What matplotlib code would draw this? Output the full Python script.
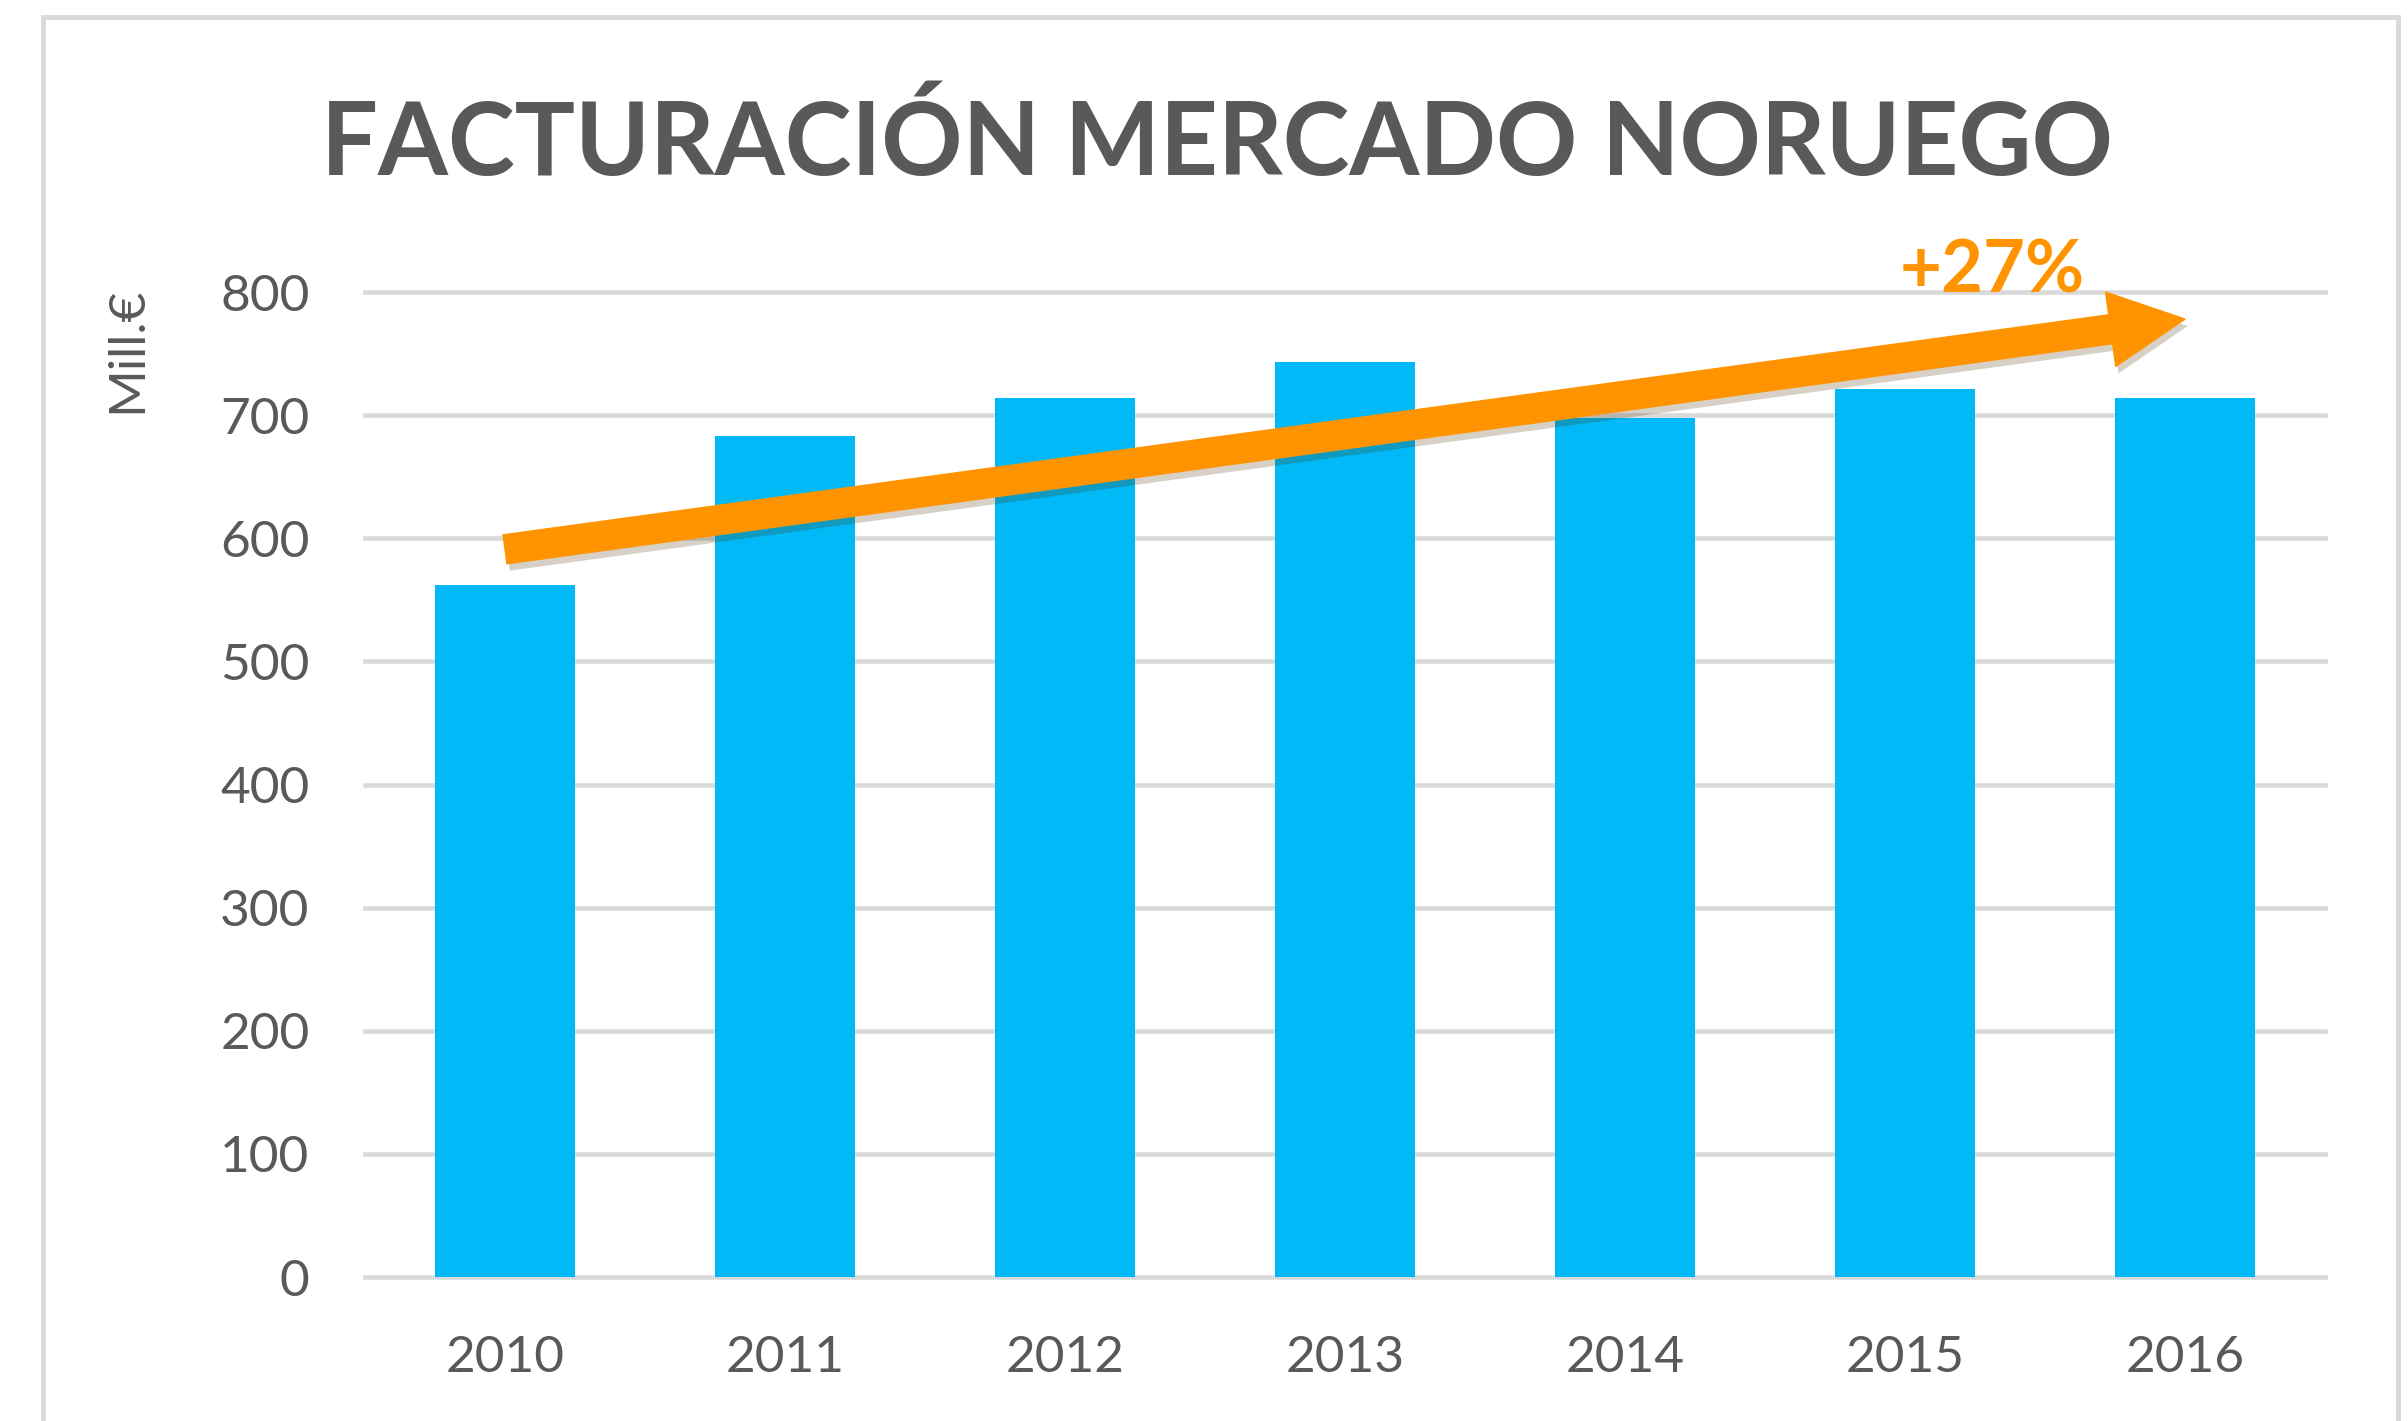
import matplotlib
matplotlib.use("Agg")
import matplotlib.pyplot as plt
import matplotlib.patheffects as pe
from matplotlib.patches import Rectangle

# Data
years = ["2010", "2011", "2012", "2013", "2014", "2015", "2016"]
revenue = [562, 683, 714, 743, 698, 721, 714]
y_ticks = [0, 100, 200, 300, 400, 500, 600, 700, 800]
trend_start = 591
trend_end = 778
trend_label = "+27%"

title = "FACTURACIÓN MERCADO NORUEGO"
ylabel = "Mill.€"

BAR_COLOR = "#00B9F6"
ORANGE = "#FF9400"
TEXT_GRAY = "#595959"
GRID_GRAY = "#D9D9D9"

plt.rcParams["font.family"] = ["Lato", "DejaVu Sans"]

fig = plt.figure(figsize=(24.07, 14.21), dpi=100)
ax = fig.add_axes([365 / 2407, 1 - 1277 / 1421, (2325 - 365) / 2407, (1277 - 292) / 1421])

x = list(range(len(years)))
ax.bar(x, revenue, width=0.5, color=BAR_COLOR, zorder=2)

ax.set_xlim(-0.5, len(years) - 0.5)
ax.set_ylim(0, 800)
ax.set_yticks(y_ticks)
ax.set_xticks(x)
ax.set_xticklabels(years)

ax.grid(axis="y", color=GRID_GRAY, linewidth=3.3, zorder=0)
for gl in ax.get_ygridlines():
    gl.set_clip_on(False)
ax.set_axisbelow(True)
for s in ax.spines.values():
    s.set_visible(False)
ax.tick_params(axis="both", length=0, labelsize=37, labelcolor=TEXT_GRAY)
ax.tick_params(axis="y", pad=40)
ax.tick_params(axis="x", pad=42)

# trend arrow
ax.annotate("", xy=(6.0, trend_end), xytext=(0.0, trend_start),
            xycoords="data", annotation_clip=False,
            arrowprops=dict(arrowstyle="simple,head_width=5.4,head_length=5.4,tail_width=2.1",
                            mutation_scale=10, color=ORANGE, shrinkA=0, shrinkB=0,
                            path_effects=[pe.SimplePatchShadow(offset=(2, -5), alpha=0.22),
                                          pe.Normal()]),
            zorder=5)
ax.text(5.31, 816, trend_label, color=ORANGE, fontsize=52, fontweight="bold",
        ha="center", va="center", zorder=6, clip_on=False)

fig.text(1217 / 2407, 1 - 144 / 1421, title, color=TEXT_GRAY, fontsize=72.5,
         fontweight="bold", ha="center", va="center")
fig.text(127 / 2407, 1 - 350 / 1421, ylabel, color=TEXT_GRAY, fontsize=37,
         rotation=90, ha="center", va="center")

# light frame around the chart
fig.add_artist(Rectangle((43 / 2407, -0.1), (2398 - 43) / 2407, 1.1 - 17 / 1421,
                         transform=fig.transFigure, fill=False,
                         edgecolor=GRID_GRAY, linewidth=3.5, clip_on=False))

fig.savefig("out.png", dpi=100)
plt.close(fig)
